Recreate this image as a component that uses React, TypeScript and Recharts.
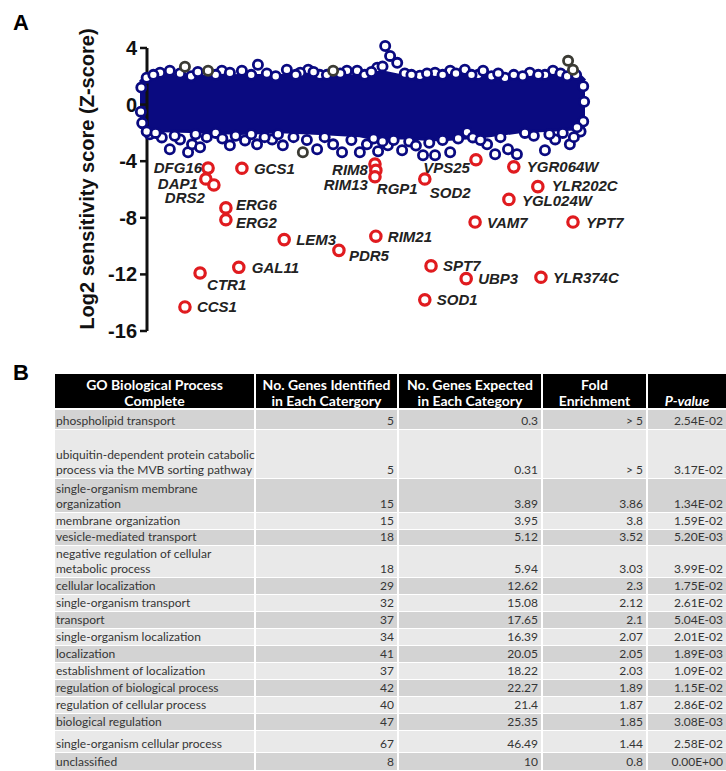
import React from "react";
import { ComposedChart, Area, Scatter, XAxis, YAxis, ReferenceLine } from "recharts";

// gene rank runs 0..100 across the plot, y is the log2 z-score

// outline of the solid mass of genes around zero
const BAND_X = [0, 1.1, 4.5, 13.5, 22.5, 31.5, 40.4, 49.4, 53.9, 58.4, 67.4, 76.4, 85.4, 94.4, 98.9, 100];
const BAND_HIGH = [1.6, 1.95, 2.05, 2.0, 2.05, 2.05, 2.0, 2.05, 2.35, 2.05, 2.0, 2.1, 2.1, 2.3, 2.05, 1.7];
const BAND_LOW = [-1.6, -1.7, -1.85, -1.92, -2.05, -1.92, -2.05, -2.2, -2.5, -2.35, -2.5, -2.3, -1.92, -1.78, -1.7, -1.8];

// single genes visible on the rim of the mass
const EDGE_X = [
  6.7, 18.4, 22.9, 26.5, 33.0, 37.8, 46.5, 48.8, 53.3, 55.1, 56.2, 57.8, 62.9, 69.7, 73.0, 76.0, 77.1, 82.0, 92.8,
  4.5, 20.2, 36.0, 40.4, 66.3, 87.6, 91.0, 0.3, 0.2, 0.5, 99.6, 99.8, 99.6, 99.0,
  1.5, 3.0, 9.0, 11.5, 13.0, 17.0, 25.0, 28.5, 30.5, 35.0, 39.0, 42.0, 45.0, 50.5, 52.0, 54.5, 59.5,
  61.0, 64.5, 68.0, 71.0, 74.5, 79.0, 80.5, 84.0, 86.0, 89.5, 94.5, 96.0, 98.0,
  2.2, 4.9, 6.7, 9.0, 10.8, 11.7, 13.5, 20.2, 23.6, 26.3, 29.7, 32.1, 39.8, 43.4, 45.4, 49.4, 51.0, 53.5,
  55.7, 58.9, 63.6, 66.3, 69.7, 73.5, 74.8, 78.0, 79.8, 82.7, 84.7, 91.0, 93.3, 96.6, 98.2,
  1.5, 3.5, 7.8, 12.5, 15.0, 17.0, 18.5, 21.5, 25.0, 28.0, 31.0, 34.5, 37.5, 41.5, 47.5, 52.5, 54.5,
  57.0, 60.5, 62.0, 65.0, 68.0, 71.5, 76.5, 81.0, 86.5, 88.5, 92.0, 95.0, 97.5,
];
const EDGE_Y = [
  2.39, 2.39, 2.39, 2.81, 2.46, 2.46, 2.39, 2.39, 2.6, 4.14, 3.44, 2.95, 2.04, 2.39, 2.46, 2.1, 2.39, 1.9, 2.39,
  2.25, 2.25, 2.25, 2.1, 2.25, 2.25, 2.1, 1.2, -0.5, -1.3, 1.3, 0.2, -1.2, -1.9,
  1.9, 2.1, 2.2, 2.0, 2.3, 2.1, 2.1, 2.2, 2.0, 2.1, 2.3, 2.1, 2.2, 2.1, 2.3, 2.7, 2.2,
  2.1, 2.2, 2.1, 2.2, 2.1, 2.0, 2.2, 2.1, 2.0, 2.1, 2.2, 2.0, 2.1,
  -2.1, -2.32, -3.16, -2.46, -3.37, -2.81, -3.02, -2.88, -2.53, -2.81, -2.46, -2.88, -3.16, -2.81, -3.37, -3.37, -2.81, -3.3,
  -2.88, -3.23, -3.58, -3.58, -3.37, -1.96, -2.32, -2.81, -3.51, -3.16, -3.51, -3.23, -2.46, -2.81, -1.61,
  -1.9, -2.0, -2.2, -2.1, -2.3, -2.0, -2.4, -2.2, -2.1, -2.3, -2.1, -2.3, -2.5, -2.3, -2.5, -2.4, -2.6,
  -2.5, -2.6, -2.9, -2.7, -2.5, -2.4, -2.5, -2.3, -2.0, -2.2, -2.1, -2.0, -2.3,
];

// the few grey circles
const GREY_X = [10.1, 15.3, 43.4, 36.6, 96.2, 97.3];
const GREY_Y = [2.67, 2.39, 2.39, -3.37, 3.09, 2.46];

// sensitive hits in red
const HIT_GENES = [
  "DFG16", "DAP1", "DRS2", "GCS1", "ERG6", "ERG2", "LEM3", "PDR5", "GAL11", "CTR1", "CCS1",
  "RIM8", "RGP1", "RIM13", "VPS25", "SOD2", "YGR064W", "YLR202C", "YGL024W", "VAM7", "YPT7",
  "RIM21", "SPT7", "UBP3", "YLR374C", "SOD1",
];
const HIT_X = [
  15.3, 14.8, 16.6, 22.9, 19.3, 19.3, 32.4, 44.7, 22.2, 13.5, 10.1,
  52.8, 53.0, 52.8, 75.5, 64.0, 84.0, 89.4, 82.9, 75.3, 97.3,
  53.0, 65.4, 73.3, 90.1, 64.0,
];
const HIT_Y = [
  -4.49, -5.26, -5.68, -4.5, -7.3, -8.14, -9.54, -10.3, -11.5, -11.9, -14.3,
  -4.2, -4.65, -5.1, -3.9, -5.26, -4.4, -5.8, -6.7, -8.3, -8.3,
  -9.3, -11.4, -12.3, -12.2, -13.8,
];

const Y_TICKS = [4, 0, -4, -8, -12, -16];

// table B
const GO_TERMS = [
  "phospholipid transport",
  "ubiquitin-dependent protein catabolic\nprocess via the MVB sorting pathway",
  "single-organism membrane\norganization",
  "membrane organization",
  "vesicle-mediated transport",
  "negative regulation of cellular\nmetabolic process",
  "cellular localization",
  "single-organism transport",
  "transport",
  "single-organism localization",
  "localization",
  "establishment of localization",
  "regulation of biological process",
  "regulation of cellular process",
  "biological regulation",
  "single-organism cellular process",
  "unclassified",
];
const GENES_FOUND = [5, 5, 15, 15, 18, 18, 29, 32, 37, 34, 41, 37, 42, 40, 47, 67, 8];
const GENES_EXPECTED = ["0.3", "0.31", "3.89", "3.95", "5.12", "5.94", "12.62", "15.08", "17.65", "16.39", "20.05", "18.22", "22.27", "21.4", "25.35", "46.49", "10"];
const FOLD = ["> 5", "> 5", "3.86", "3.8", "3.52", "3.03", "2.3", "2.12", "2.1", "2.07", "2.05", "2.03", "1.89", "1.87", "1.85", "1.44", "0.8"];
const P_VALUES = ["2.54E-02", "3.17E-02", "1.34E-02", "1.59E-02", "5.20E-03", "3.99E-02", "1.75E-02", "2.61E-02", "5.04E-03", "2.01E-02", "1.89E-03", "1.09E-02", "1.15E-02", "2.86E-02", "3.08E-03", "2.58E-02", "0.00E+00"];
const HEADERS = [
  "GO Biological Process\nComplete",
  "No. Genes Identified\nin Each Catergory",
  "No. Genes Expected\nin Each Category",
  "Fold\nEnrichment",
  "\nP-value",
];

const NAVY = "#0a0a80";
const RED = "#e01b1f";
const AXIS_PX = 147;
const AXIS_X = (AXIS_PX - 140) / 4.45;

// where each gene name sits relative to its circle: dx, dy, anchor
const LABEL_PLACE: Record<string, [number, number, string]> = {
  DFG16: [-6, -1, "end"],
  DAP1: [-8, 4, "end"],
  DRS2: [-9, 13, "end"],
  GCS1: [12, 0, "start"],
  ERG6: [10, -3, "start"],
  ERG2: [10, 3, "start"],
  LEM3: [12, 0, "start"],
  PDR5: [10, 5, "start"],
  GAL11: [13, 0, "start"],
  CTR1: [7, 12, "start"],
  CCS1: [12, 0, "start"],
  RIM8: [-7, 5, "end"],
  RGP1: [1, 18, "start"],
  RIM13: [-7, 8, "end"],
  VPS25: [-6, 8, "end"],
  SOD2: [5, 13, "start"],
  YGR064W: [13, 0, "start"],
  YLR202C: [14, -1, "start"],
  YGL024W: [13, 1, "start"],
  VAM7: [12, 0, "start"],
  YPT7: [13, 0, "start"],
  RIM21: [12, 0, "start"],
  SPT7: [12, 0, "start"],
  UBP3: [12, 0, "start"],
  YLR374C: [12, 0, "start"],
  SOD1: [12, 0, "start"],
};

const ROW_H = [20, 49, 34, 17, 16, 32, 17, 17, 17, 17, 17, 17, 17, 17, 17, 22, 18];
const COL_W = [201, 143, 144, 105, 78];

const bandData = BAND_X.map((x, i) => ({ x, range: [BAND_LOW[i], BAND_HIGH[i]] }));
const edgeData = EDGE_X.map((x, i) => ({ x, y: EDGE_Y[i] }));
const greyData = GREY_X.map((x, i) => ({ x, y: GREY_Y[i] }));
const hitData = HIT_GENES.map((gene, i) => ({ gene, x: HIT_X[i], y: HIT_Y[i] }));

const ring = (color: string) => (p: any) => (
  <circle cx={p.cx} cy={p.cy} r={4.6} fill="#fff" stroke={color} strokeWidth={2.8} />
);

function HitDot(p: any) {
  const place = LABEL_PLACE[p.payload.gene] || [12, 0, "start"];
  return (
    <g>
      <circle cx={p.cx} cy={p.cy} r={5.2} fill="#fff" stroke={RED} strokeWidth={3.2} />
      <text
        x={p.cx + place[0]}
        y={p.cy + place[1]}
        textAnchor={place[2] as any}
        dominantBaseline="central"
        fontSize={15}
        fontWeight={700}
        fontStyle="italic"
        fontFamily="'Liberation Sans', Arial, sans-serif"
        fill="#222"
      >
        {p.payload.gene}
      </text>
    </g>
  );
}

function YTick(p: any) {
  return (
    <g>
      <line x1={AXIS_PX - 7} x2={AXIS_PX} y1={p.y} y2={p.y} stroke="#111" strokeWidth={2.5} />
      <text
        x={AXIS_PX - 10}
        y={p.y}
        textAnchor="end"
        dominantBaseline="central"
        fontSize={20}
        fontWeight={700}
        fontFamily="'Liberation Sans', Arial, sans-serif"
        fill="#111"
      >
        {p.payload.value}
      </text>
    </g>
  );
}

function GoTable() {
  return (
    <div style={{ position: "absolute", left: 55, top: 374, width: 671, fontFamily: "Lato, 'Open Sans', sans-serif" }}>
      <div style={{ display: "flex", height: 36, background: "#000", borderBottom: "2px solid #fff", boxSizing: "border-box" }}>
        {HEADERS.map((h, i) => (
          <div
            key={i}
            style={{
              width: COL_W[i],
              boxSizing: "border-box",
              borderRight: i < 4 ? "2px solid #fff" : "none",
              color: "#fff",
              fontWeight: 700,
              fontSize: 14,
              lineHeight: "16px",
              textAlign: "center",
              paddingTop: 3,
              whiteSpace: "pre-line",
              fontStyle: i === 4 ? "italic" : "normal",
            }}
          >
            {h}
          </div>
        ))}
      </div>
      {GO_TERMS.map((term, r) => {
        const cells = [term, String(GENES_FOUND[r]), GENES_EXPECTED[r], FOLD[r], P_VALUES[r]];
        return (
          <div
            key={r}
            style={{
              display: "flex",
              height: ROW_H[r],
              boxSizing: "border-box",
              borderBottom: "1.5px solid #fff",
              background: r % 2 === 0 ? "#d3d3d3" : "#e9e9e9",
            }}
          >
            {cells.map((c, i) => (
              <div
                key={i}
                style={{
                  width: COL_W[i],
                  boxSizing: "border-box",
                  borderRight: i < 4 ? "2px solid #fff" : "none",
                  display: "flex",
                  alignItems: "flex-end",
                  justifyContent: i === 0 ? "flex-start" : "flex-end",
                  padding: i === 0 ? "0 0 1px 1px" : "0 3px 1px 0",
                  fontSize: 12,
                  lineHeight: "15px",
                  color: "#353535",
                  whiteSpace: i === 0 ? "pre" : "nowrap",
                }}
              >
                {c}
              </div>
            ))}
          </div>
        );
      })}
    </div>
  );
}

export default function App() {
  return (
    <div
      style={{
        position: "absolute",
        left: 0,
        top: 0,
        width: 726,
        height: 771,
        background: "#fff",
        overflow: "hidden",
        fontFamily: "'Liberation Sans', Arial, sans-serif",
      }}
    >
      <div style={{ position: "absolute", left: 13, top: 12, fontSize: 22, fontWeight: 700, lineHeight: 1 }}>A</div>
      <div
        style={{
          position: "absolute",
          left: 87,
          top: 179,
          transform: "translate(-50%, -50%) rotate(-90deg)",
          whiteSpace: "nowrap",
          fontSize: 20,
          fontWeight: 700,
          color: "#111",
        }}
      >
        Log2 sensitivity score (Z-score)
      </div>
      <ComposedChart width={726} height={345} data={bandData} margin={{ top: 46, right: 141, bottom: 14, left: 0 }}>
        <XAxis type="number" dataKey="x" domain={[0, 100]} hide />
        <YAxis
          type="number"
          domain={[-16, 4]}
          ticks={Y_TICKS}
          interval={0}
          width={140}
          axisLine={false}
          tickLine={false}
          tick={<YTick />}
        />
        <ReferenceLine
          segment={[{ x: AXIS_X, y: 4 }, { x: AXIS_X, y: -16 }]}
          stroke="#111"
          strokeWidth={3}
          ifOverflow="visible"
        />
        <Area
          dataKey="range"
          type="linear"
          stroke={NAVY}
          strokeWidth={3}
          fill={NAVY}
          fillOpacity={1}
          isAnimationActive={false}
        />
        <Scatter data={edgeData} dataKey="y" shape={ring(NAVY)} isAnimationActive={false} />
        <Scatter data={greyData} dataKey="y" shape={ring("#3b3b34")} isAnimationActive={false} />
        <Scatter data={hitData} dataKey="y" shape={HitDot} isAnimationActive={false} />
      </ComposedChart>
      <div style={{ position: "absolute", left: 13, top: 362, fontSize: 22, fontWeight: 700, lineHeight: 1 }}>B</div>
      <GoTable />
    </div>
  );
}
